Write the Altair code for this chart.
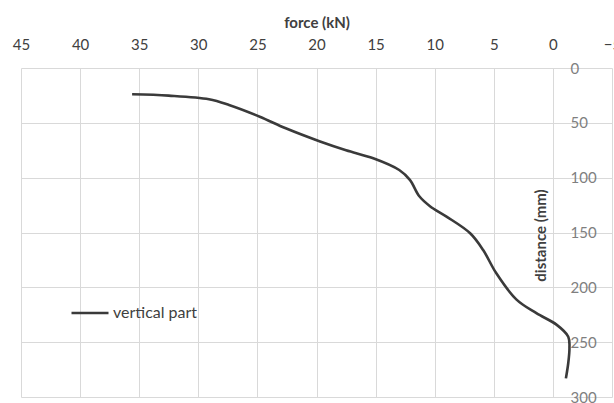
import altair as alt
import pandas as pd

force = [35.6, 32.5, 29.1, 27.4, 24.8, 22.6, 19.7, 17.5, 15.2, 13.0, 12.1, 11.3,
         10.4, 9.0, 7.0, 5.9, 4.8, 3.1, 1.4, -0.3, -1.3, -1.4, -1.3, -1.1]
distance = [24, 25.2, 28.5, 33.7, 44.4, 55, 67, 75, 82.3, 93, 102, 117,
            126, 135.5, 150.7, 166, 187, 211, 223.6, 234, 245, 255.5, 269, 283]
series_name = "vertical part"
x_ticks = [45, 40, 35, 30, 25, 20, 15, 10, 5, 0, -5]
y_ticks = [0, 50, 100, 150, 200, 250, 300]

df = pd.DataFrame({
    "force": force,
    "distance": distance,
    "idx": list(range(len(force))),
    "series": [series_name] * len(force),
})

FONT = "Lato"

chart = alt.Chart(df).mark_line(
    interpolate="catmull-rom", strokeWidth=2.6
).encode(
    x=alt.X("force:Q",
            scale=alt.Scale(domain=[-5, 45], reverse=True, nice=False, zero=False),
            axis=alt.Axis(orient="top", values=x_ticks, title="force (kN)",
                          grid=True, gridColor="#d9d9d9", domain=False, ticks=False,
                          labelColor="#404040", labelFontSize=15, labelFont=FONT,
                          labelPadding=16, titleFont=FONT, titleFontSize=15,
                          titleFontWeight="bold", titleColor="#404040",
                          titlePadding=7, labelFlush=False)),
    y=alt.Y("distance:Q",
            scale=alt.Scale(domain=[0, 300], reverse=True, nice=False),
            axis=alt.Axis(orient="right", offset=-59, values=y_ticks,
                          title="distance (mm)", grid=True, gridColor="#d9d9d9",
                          domain=False, ticks=False, labelColor="#7f7f7f",
                          labelFontSize=15, labelFont=FONT, labelAlign="left",
                          labelPadding=17, labelFlush=False,
                          titleFont=FONT, titleFontSize=15, titleFontWeight="bold",
                          titleColor="#404040", titleAngle=270, titleX=-13,
                          titleY=167, titleAlign="center", titleBaseline="middle")),
    color=alt.Color("series:N",
                    scale=alt.Scale(range=["#3a3a3a"]),
                    legend=alt.Legend(title=None, orient="none", legendX=49,
                                      legendY=225, symbolType="stroke",
                                      symbolSize=1369, symbolStrokeWidth=2.6,
                                      labelFont=FONT, labelFontSize=16,
                                      labelColor="#404040", labelOffset=3,
                                      padding=0)),
    order="idx:Q",
).properties(
    width=591, height=329,
    autosize=alt.AutoSizeParams(type="none"),
    padding={"left": 21, "top": 68, "right": 2, "bottom": 6},
).configure_view(strokeWidth=0)

chart.save("out.html", embed_options={"renderer": "svg", "actions": False})
